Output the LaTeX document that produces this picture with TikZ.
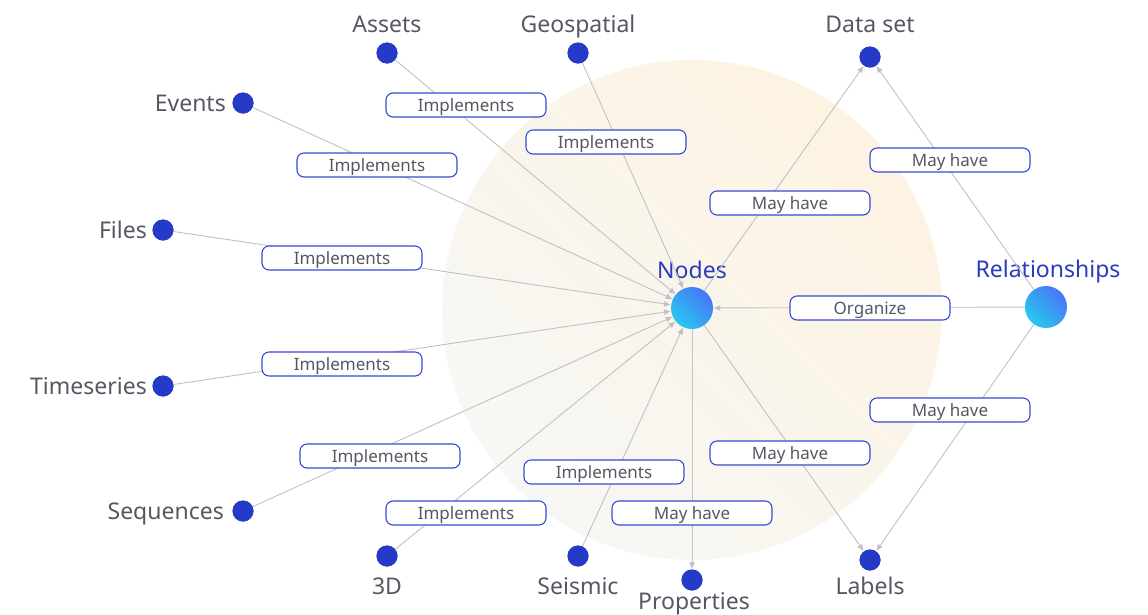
\documentclass[tikz,border=0pt]{standalone}
\usepackage{fontspec}
\setmainfont{Noto Sans}
\usetikzlibrary{arrows.meta}
\definecolor{dotblue}{RGB}{38,58,200}
\definecolor{txtgray}{RGB}{85,88,98}
\definecolor{lnk}{RGB}{192,192,198}
\definecolor{boxblue}{RGB}{55,75,210}
\definecolor{titleblue}{RGB}{40,60,190}
\definecolor{bgpeach}{RGB}{253,243,226}
\definecolor{bglight}{RGB}{247,247,245}
\definecolor{bigcyan}{RGB}{40,200,240}
\definecolor{bigblue}{RGB}{72,118,246}
\begin{document}
\begin{tikzpicture}[x=1pt,y=-1pt,
  dotnode/.style={circle,fill=dotblue,minimum size=21pt,inner sep=0pt},
  bignode/.style={circle,minimum size=42pt,inner sep=0pt,top color=bigblue,bottom color=bigcyan,shading angle=-45},
  lbl/.style={font=\fontsize{23}{26}\selectfont,text=txtgray,anchor=base,inner sep=0pt},
  ttl/.style={font=\fontsize{23}{26}\selectfont,text=titleblue,anchor=base,inner sep=0pt},
  tagbox/.style={draw=boxblue,line width=1.1pt,fill=white,rounded corners=7pt,minimum width=160pt,minimum height=24pt,inner sep=0pt,text=txtgray,text height=12pt,text depth=0pt,font=\fontsize{17}{20}\selectfont},
  link/.style={draw=lnk,line width=0.9pt,-{Latex[length=7pt,width=6pt]}}
]
\useasboundingbox (0,0) rectangle (1148,614);
\shade[top color=bgpeach,bottom color=bglight,shading angle=-45] (692,310) circle (250);

% main nodes
\node[bignode] (nodes) at (692,308) {};
\node[bignode] (rel) at (1046,307) {};
\node[ttl] (tnodes) at (692,278) {Nodes};
\node[ttl] (trel) at (1048,277) {Relationships};

% leaf dots
\node[dotnode] (assets) at (387,53) {};
\node[dotnode] (geo) at (578,53) {};
\node[dotnode] (dataset) at (870,57) {};
\node[dotnode] (events) at (243,103) {};
\node[dotnode] (files) at (163,230) {};
\node[dotnode] (ts) at (163,386) {};
\node[dotnode] (seq) at (243,511) {};
\node[dotnode] (threed) at (387,556) {};
\node[dotnode] (seis) at (578,556) {};
\node[dotnode] (props) at (692,580) {};
\node[dotnode] (labels) at (870,560) {};

% leaf texts
\node[lbl] (tassets) at (387,32) {Assets};
\node[lbl] (tgeo) at (578,32) {Geospatial};
\node[lbl] (tdataset) at (870,32) {Data set};
\node[lbl,anchor=base east] (tevents) at (226,111) {Events};
\node[lbl,anchor=base east] (tfiles) at (147,238) {Files};
\node[lbl,anchor=base east] (tts) at (147,394) {Timeseries};
\node[lbl,anchor=base east] (tseq) at (224,519) {Sequences};
\node[lbl] (tthreed) at (387,594) {3D};
\node[lbl] (tseis) at (578,594) {Seismic};
\node[lbl] (tprops) at (694,609) {Properties};
\node[lbl] (tlabels) at (870,594) {Labels};

% connectors
\foreach \s in {assets,geo,events,files,ts,seq,threed,seis}
  \draw[link] (\s) -- (nodes);
\draw[link] (nodes) -- (dataset);
\draw[link] (nodes) -- (labels);
\draw[link] (nodes) -- (props);
\draw[link] (rel) -- (dataset);
\draw[link] (rel) -- (labels);
\draw[link] (rel) -- (nodes);

% redraw dots over lines
\foreach \s/\x/\y in {assets/387/53,geo/578/53,dataset/870/57,events/243/103,files/163/230,ts/163/386,seq/243/511,threed/387/556,seis/578/556,props/692/580,labels/870/560}
  \fill[dotblue] (\x,\y) circle (10.5);

% tag boxes
\node[tagbox] (b1) at (466,105) {Implements};
\node[tagbox] (b2) at (606,142) {Implements};
\node[tagbox] (b3) at (377,165) {Implements};
\node[tagbox] (b4) at (342,258) {Implements};
\node[tagbox] (b5) at (342,364) {Implements};
\node[tagbox] (b6) at (380,456) {Implements};
\node[tagbox] (b7) at (466,513) {Implements};
\node[tagbox] (b8) at (604,472) {Implements};
\node[tagbox] (b9) at (692,513) {May have};
\node[tagbox] (b10) at (790,203) {May have};
\node[tagbox] (b11) at (790,453) {May have};
\node[tagbox] (b12) at (950,160) {May have};
\node[tagbox] (b13) at (950,410) {May have};
\node[tagbox] (b14) at (870,308) {Organize};
\end{tikzpicture}
\end{document}
